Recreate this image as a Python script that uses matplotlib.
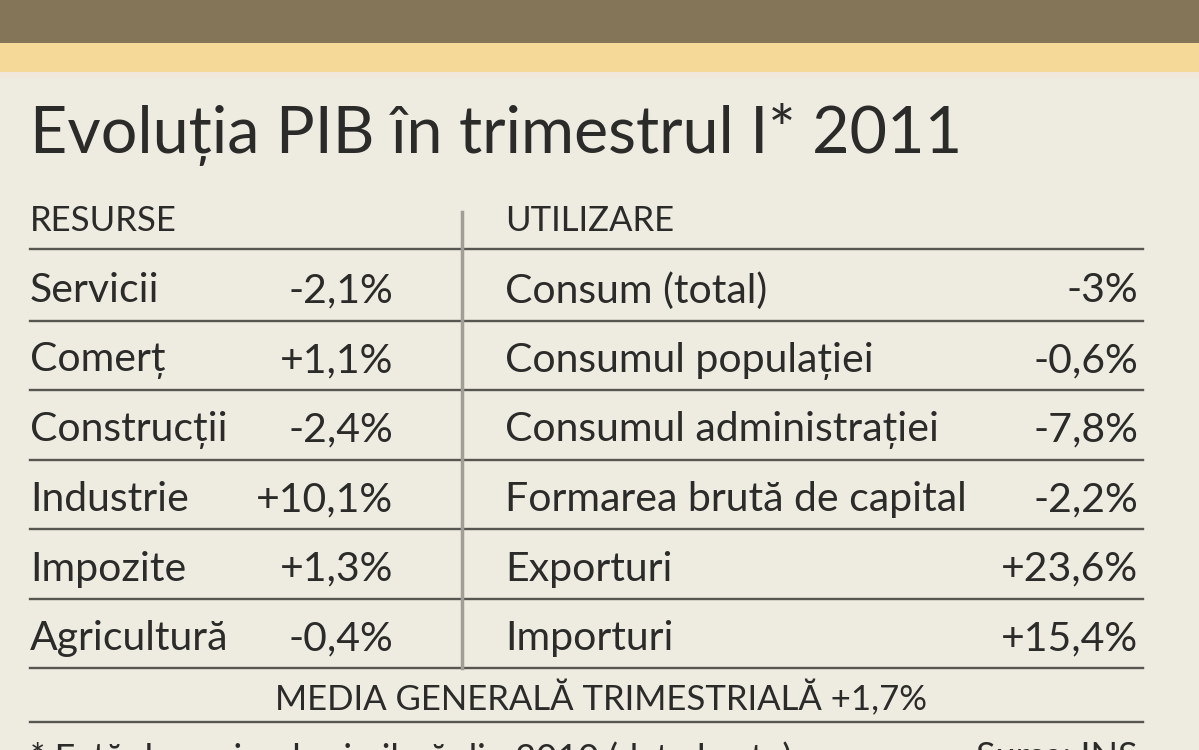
import matplotlib
matplotlib.use("Agg")
import matplotlib.pyplot as plt

# table content
title = "Evoluția PIB în trimestrul I* 2011"
left_header = "RESURSE"
right_header = "UTILIZARE"
resurse = ["Servicii", "Comerț", "Construcții", "Industrie", "Impozite", "Agricultură"]
resurse_val = ["-2,1%", "+1,1%", "-2,4%", "+10,1%", "+1,3%", "-0,4%"]
utilizare = ["Consum (total)", "Consumul populației", "Consumul administrației",
             "Formarea brută de capital", "Exporturi", "Importuri"]
utilizare_val = ["-3%", "-0,6%", "-7,8%", "-2,2%", "+23,6%", "+15,4%"]
media = "MEDIA GENERALĂ TRIMESTRIALĂ +1,7%"
footnote = "* Față de perioada similară din 2010 (date brute)"
source = "Sursa: INS"

BG = "#eeebe1"
TXT = "#2b2b29"
LINE = "#575650"
FONT = ["Lato", "DejaVu Sans"]

W, H = 1199, 750
fig = plt.figure(figsize=(W / 100, H / 100), dpi=100, facecolor=BG)
ax = fig.add_axes([0, 0, 1, 1])
ax.set_xlim(0, W)
ax.set_ylim(H, 0)
ax.axis("off")

# top bands
ax.axhspan(0, 43, color="#847559", lw=0)
ax.axhspan(43, 72, color="#f5d998", lw=0)
ax.axhspan(72, 78, color="#f1e8dc", lw=0)

ax.text(30, 134, title, fontsize=46.5, color=TXT, family=FONT, va="center", ha="left")

x_left, x_lval, x_div, x_right, x_rval, x_end = 30, 393, 462, 505, 1138, 1143
header_y = 221
row0, step = 291, 69.5

ax.text(x_left, header_y, left_header, fontsize=25, color=TXT, family=FONT, va="center")
ax.text(x_right, header_y, right_header, fontsize=25, color=TXT, family=FONT, va="center")
ax.plot([x_left, x_end], [249, 249], color=LINE, lw=1.7)

for i in range(len(resurse)):
    y = row0 + i * step
    ax.text(x_left, y, resurse[i], fontsize=29.5, color=TXT, family=FONT, va="center")
    ax.text(x_lval, y, resurse_val[i], fontsize=29.5, color=TXT, family=FONT, va="center", ha="right")
    ax.text(x_right, y, utilizare[i], fontsize=29.5, color=TXT, family=FONT, va="center")
    ax.text(x_rval, y, utilizare_val[i], fontsize=29.5, color=TXT, family=FONT, va="center", ha="right")
    yl = y + step / 2 - 5
    ax.plot([x_left, x_end], [yl, yl], color=LINE, lw=1.7)

last = row0 + (len(resurse) - 1) * step + step / 2 - 5
ax.plot([x_div, x_div], [212, last], color="#a09e96", lw=2.5)

ax.text(601, 698, media, fontsize=25, color=TXT,
        family=FONT, va="center", ha="center")
ax.plot([x_left, x_end], [722, 722], color=LINE, lw=1.7)

ax.text(x_left, 741, footnote, fontsize=26, color=TXT, family=FONT, va="top")
ax.text(x_rval, 741, source, fontsize=26, color=TXT, family=FONT, va="top", ha="right")

fig.savefig("out.png", dpi=100, facecolor=BG)
